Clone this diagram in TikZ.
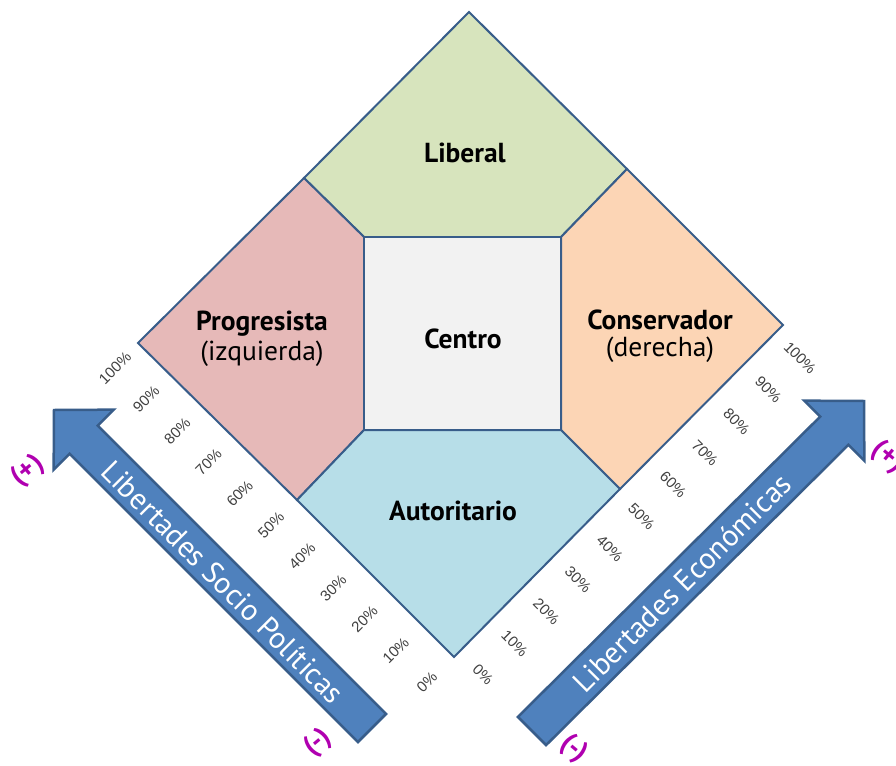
\documentclass[tikz,border=0pt]{standalone}
\usepackage{fontspec}
\setmainfont{PT Sans}
\newfontfamily\pctfont{Liberation Sans}
\definecolor{edgeblue}{RGB}{56,93,138}
\definecolor{arrowblue}{RGB}{79,129,189}
\definecolor{libgreen}{RGB}{215,228,189}
\definecolor{progpink}{RGB}{230,185,184}
\definecolor{conspeach}{RGB}{252,213,181}
\definecolor{autblue}{RGB}{183,222,232}
\definecolor{centgray}{RGB}{242,242,242}
\definecolor{pctgray}{RGB}{64,64,64}
\definecolor{signmag}{RGB}{176,0,176}
\tikzset{
  region/.style={draw=edgeblue, line width=2pt, line join=miter},
  bigarrow/.style={fill=arrowblue, draw=edgeblue, line width=2.5pt, line join=miter},
  boldlab/.style={font=\bfseries\fontsize{27.5}{30}\selectfont, inner sep=0pt},
  reglab/.style={font=\fontsize{27.5}{30}\selectfont, inner sep=0pt},
  axislab/.style={font=\fontsize{30}{32}\selectfont, text=white, inner sep=0pt},
  pctlab/.style={font=\pctfont\fontsize{15}{16}\selectfont, text=pctgray, inner sep=0pt},
  signlab/.style={font=\bfseries\fontsize{28}{30}\selectfont, text=signmag, inner sep=0pt}
}
\begin{document}
\begin{tikzpicture}[x=1pt,y=-1pt]
\useasboundingbox (0,0) rectangle (896,765);
\clip (0,0) rectangle (896,765);
\fill[white] (0,0) rectangle (896,765);
% outer diamond corners and junctions
\coordinate (T) at (469,12);
\coordinate (L) at (138,343);
\coordinate (B) at (454,657);
\coordinate (R) at (783,325);
\coordinate (TL) at (304,178);
\coordinate (TR) at (627,169);
\coordinate (LB) at (297,500);
\coordinate (RB) at (620,489);
\coordinate (a) at (364,237);
\coordinate (b) at (561,237);
\coordinate (c) at (561,430);
\coordinate (d) at (364,430);
% regions
\path[region, fill=libgreen] (T) -- (TR) -- (b) -- (a) -- (TL) -- cycle;
\path[region, fill=progpink] (TL) -- (a) -- (d) -- (LB) -- (L) -- cycle;
\path[region, fill=conspeach] (TR) -- (R) -- (RB) -- (c) -- (b) -- cycle;
\path[region, fill=autblue] (d) -- (c) -- (RB) -- (B) -- (LB) -- cycle;
\path[region, fill=centgray] (a) -- (b) -- (c) -- (d) -- cycle;
% region labels
\node[boldlab] (liberal) at (465,153) {Liberal};
\node[boldlab] (prog) at (262,324) {Progresista};
\node[reglab] (izq) at (262,354) {(izquierda)};
\node[boldlab] (centro) at (463,339) {Centro};
\node[boldlab] (cons) at (660,320) {Conservador};
\node[reglab] (der) at (660,350) {(derecha)};
\node[boldlab] (aut) at (453,511) {Autoritario};
% percentage scales
\foreach \i in {0,...,10}{
  \pgfmathtruncatemacro{\p}{100-10*\i}
  \node[pctlab, rotate=45] (pl\i) at ({115+31.2*\i},{368+31.4*\i}) {\p\%};
  \node[pctlab, rotate=-45] (pr\i) at ({800-31.7*\i},{358+31.7*\i}) {\p\%};
}
% left arrow (Libertades Socio Politicas)
\path[bigarrow] (54,410) -- (113.75,409.65) -- (97.8,425.6) -- (386.1,713.9)
  -- (357.9,742.1) -- (69.6,453.8) -- (53.65,469.75) -- cycle;
\node[axislab, rotate=-45] (socio) at (223,582) {Libertades Socio Políticas};
% right arrow (Libertades Economicas)
\path[bigarrow] (864,401) -- (864.35,460.75) -- (848.4,444.8) -- (546.1,745.1)
  -- (517.9,716.9) -- (820.2,416.6) -- (804.25,400.65) -- cycle;
\node[axislab, rotate=45] (econ) at (682,583) {Libertades Económicas};
% signs
\node[signlab, rotate=40] (plusL) at (28,471) {(+)};
\node[signlab, rotate=40] (minusL) at (318,743) {(-)};
\node[signlab, rotate=-40] (plusR) at (888,457) {(+)};
\node[signlab, rotate=-40] (minusR) at (574,749) {(-)};
\end{tikzpicture}
\end{document}
